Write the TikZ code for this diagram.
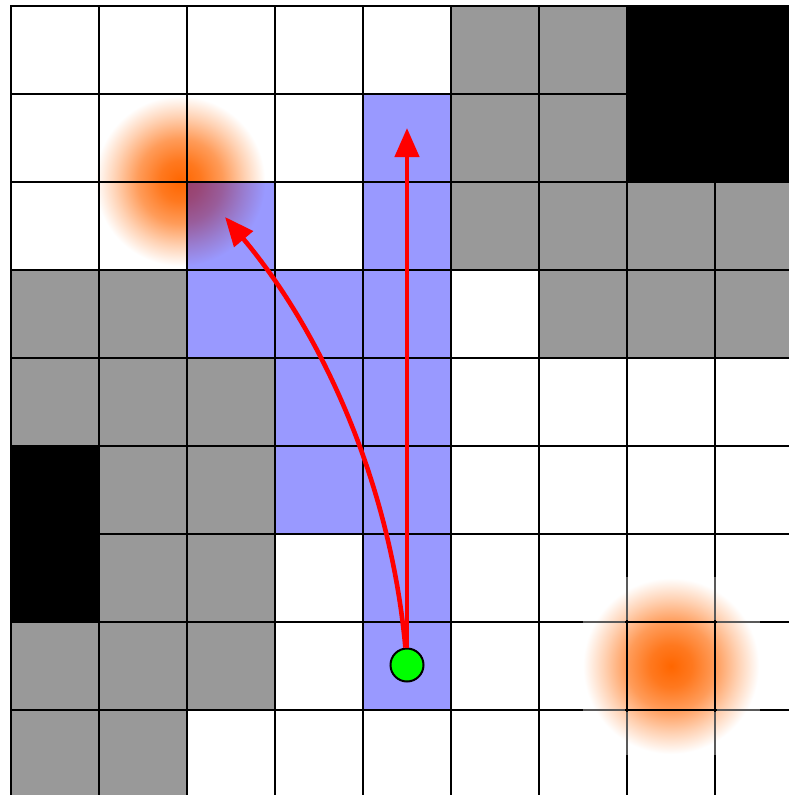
\documentclass[tikz,border=0pt]{standalone}
\usetikzlibrary{arrows.meta}
\definecolor{cellgray}{RGB}{153,153,153}
\definecolor{blobcol}{RGB}{255,102,0}
\definecolor{dotgreen}{RGB}{0,255,0}
\pgfdeclareradialshading{blobshade}{\pgfpointorigin}{color(0bp)=(blobcol); color(6bp)=(blobcol!88!white); color(12.5bp)=(blobcol!65!white); color(19bp)=(blobcol!30!white); color(25bp)=(white); color(50bp)=(white)}
\begin{document}
\begin{tikzpicture}[x=1pt,y=-1pt,
  graycell/.style={fill=cellgray},
  blackcell/.style={fill=black},
  bluecell/.style={fill=blue,fill opacity=0.4},
  gridline/.style={draw=black,line width=2.5pt,line cap=rect},
  fadeline/.style={draw=white,opacity=0.35,line width=2.5pt},
  redarrow/.style={draw=red,line width=4.6pt,-{Triangle[length=29pt,width=24pt]}},
  startdot/.style={circle,fill=dotgreen,draw=black,line width=2pt,minimum size=33pt,inner sep=0pt},
  blob/.style={shading=blobshade}]
\useasboundingbox (0,0) rectangle (789,795);
\fill[white] (0,0) rectangle (789,795);
\clip (0,0) rectangle (789,795);
% heat blobs
\shade[blob] (180,181) circle (85);
\shade[blob] (671,666) circle (88);
% gray cells
\foreach \r/\c in {0/5,0/6,1/5,1/6,2/5,2/6,2/7,2/8,3/0,3/1,3/6,3/7,3/8,4/0,4/1,4/2,5/1,5/2,6/1,6/2,7/0,7/1,7/2,8/0,8/1}
  \fill[graycell] ({11+88*\c},{6+88*\r}) rectangle ++(88,88);
% black cells
\foreach \r/\c in {0/7,0/8,1/7,1/8,5/0,6/0}
  \fill[blackcell] ({11+88*\c},{6+88*\r}) rectangle ++(88,88);
% blue path cells
\foreach \r/\c in {1/4,2/2,2/4,3/2,3/3,3/4,4/3,4/4,5/3,5/4,6/4,7/4}
  \fill[bluecell] ({11+88*\c},{6+88*\r}) rectangle ++(88,88);
% grid
\foreach \k in {0,...,8} {
  \draw[gridline] ({11+88*\k},6) -- ({11+88*\k},800);
  \draw[gridline] (11,{6+88*\k}) -- (800,{6+88*\k});
}
% lighter line segments around lower blob
\draw[fadeline] (583,622) -- (625,622);
\draw[fadeline] (717,622) -- (760,622);
\draw[fadeline] (583,710) -- (625,710);
\draw[fadeline] (717,710) -- (760,710);
\draw[fadeline] (627,577) -- (627,620);
\draw[fadeline] (627,712) -- (627,755);
\draw[fadeline] (715,577) -- (715,620);
\draw[fadeline] (715,712) -- (715,755);
% robot and arrows
\node[startdot] (robot) at (407,665) {};
\coordinate (goalA) at (407,128);
\coordinate (goalB) at (225,217);
\draw[redarrow] (robot) -- (goalA);
\draw[redarrow] (robot) .. controls (390,480) and (320,330) .. (goalB);
\end{tikzpicture}
\end{document}
